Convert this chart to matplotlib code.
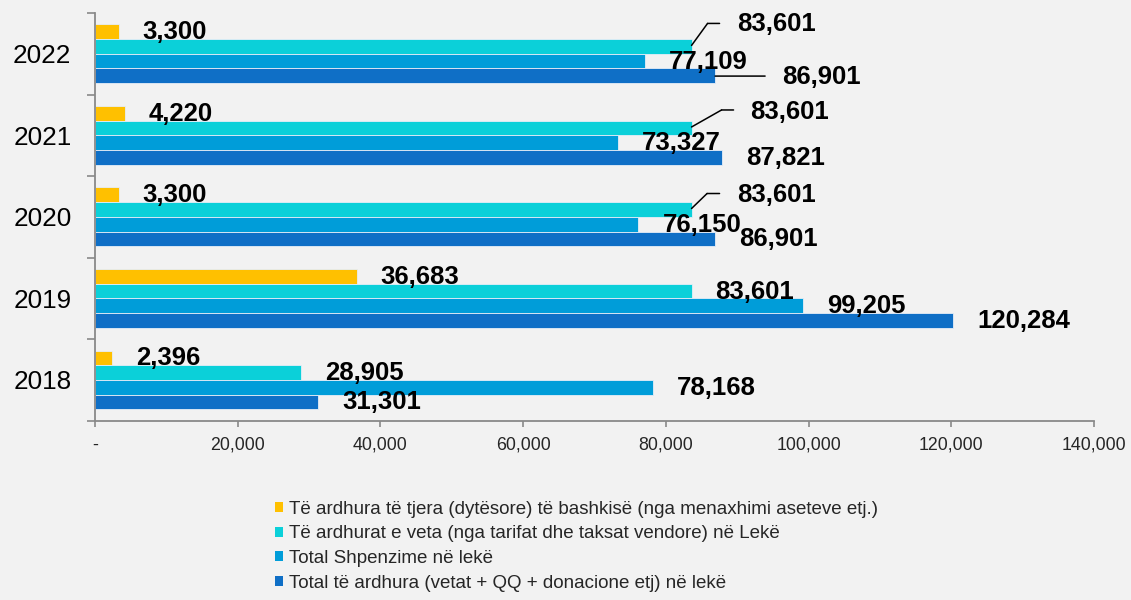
import matplotlib
matplotlib.use('Agg')
import matplotlib.pyplot as plt
import matplotlib.transforms as mtransforms
from matplotlib.patches import Patch
import numpy as np

plt.rcParams['font.family'] = ['Liberation Sans', 'DejaVu Sans']

# ---- data ----
years = ['2018', '2019', '2020', '2021', '2022']
other_income = [2396, 36683, 3300, 4220, 3300]
own_income = [28905, 83601, 83601, 83601, 83601]
total_expenses = [78168, 99205, 76150, 73327, 77109]
total_income = [31301, 120284, 86901, 87821, 86901]
series_names = [
    'Të ardhura të tjera (dytësore) të bashkisë (nga menaxhimi aseteve etj.)',
    'Të ardhurat e veta (nga tarifat dhe taksat vendore) në Lekë',
    'Total Shpenzime në lekë',
    'Total të ardhura (vetat + QQ + donacione etj) në lekë',
]
x_ticks = [0, 20000, 40000, 60000, 80000, 100000, 120000, 140000]
x_tick_labels = ['-', '20,000', '40,000', '60,000', '80,000', '100,000', '120,000', '140,000']

# ---- style ----
colors = ['#FFC000', '#0BD0D9', '#009DD9', '#0F6FC6']
bg = '#F2F2F2'
axis_gray = '#898989'
text_col = '#262626'

W, H = 1131, 600
fig = plt.figure(figsize=(W / 100, H / 100), dpi=100, facecolor=bg)
ax = fig.add_axes([95 / W, 1 - 420.7 / H, (1094 - 95) / W, (420.7 - 13) / H])
ax.set_facecolor(bg)

series = [other_income, own_income, total_expenses, total_income]
ypos = np.arange(len(years))
bar_h = 0.18
offsets = [0.27, 0.09, -0.09, -0.27]

for s, off, c, name in zip(series, offsets, colors, series_names):
    ax.barh(ypos + off, s, height=bar_h, color=c, edgecolor='#E6EEF7',
            linewidth=0.6, label=name)

ax.set_xlim(0, 140000)
ax.set_ylim(-0.5, len(years) - 0.5)

for sp in ['top', 'right']:
    ax.spines[sp].set_visible(False)
for sp in ['left', 'bottom']:
    ax.spines[sp].set_color(axis_gray)
    ax.spines[sp].set_linewidth(1.3)

ax.set_xticks(x_ticks, x_tick_labels)
ax.tick_params(axis='x', length=4.5, width=1.2, color=axis_gray, pad=7,
               labelsize=12.8, labelcolor=text_col)
ax.set_yticks(ypos, years)
ax.tick_params(axis='y', which='major', length=0, pad=17, labelsize=18.8,
               labelcolor='black')
ax.set_yticks(np.arange(-0.5, len(years), 1.0), minor=True)
ax.tick_params(axis='y', which='minor', length=6, width=1.2, color=axis_gray)

# ---- data labels (pixel offsets of text left edge from bar end; y down) ----
default_shift = (24, 0.5)
label_shift = {
    (4, 1): (45.4, -22),
    (4, 3): (67, 1),
    (3, 1): (58.4, -16),
    (2, 1): (45.4, -14.5),
}
for si, s in enumerate(series):
    for yi, v in enumerate(s):
        dx, dy = label_shift.get((yi, si), default_shift)
        ax.annotate(f'{v:,}', xy=(v, ypos[yi] + offsets[si]), xytext=(dx, -dy),
                    textcoords='offset pixels', ha='left', va='center',
                    fontsize=18.5, fontweight='bold', color='black')

# leader lines (pixel offsets from bar end; y down)
leaders = [
    (4, 1, [(0, -1), (16, -23), (28, -23)]),
    (3, 1, [(0, -1), (30, -18), (42, -18)]),
    (2, 1, [(0, -1), (15.5, -16), (28, -16)]),
    (4, 3, [(0, 0.3), (50, 0.3)]),
]


def pix(dx, dy):
    return ax.transData + mtransforms.ScaledTranslation(dx / fig.dpi, -dy / fig.dpi,
                                                        fig.dpi_scale_trans)


for yi, si, pts in leaders:
    v = series[si][yi]
    yy = ypos[yi] + offsets[si]
    for a, b in zip(pts[:-1], pts[1:]):
        ax.annotate('', xy=(v, yy), xycoords=pix(*a), xytext=(v, yy),
                    textcoords=pix(*b),
                    arrowprops=dict(arrowstyle='-', color='black', lw=1.1,
                                    shrinkA=0, shrinkB=0))

# ---- legend ----
handles = [Patch(facecolor=c, edgecolor='none') for c in colors]
fig.legend(handles, series_names, loc='upper left',
           bbox_to_anchor=(275 / W, 1 - 501 / H), frameon=False, fontsize=13.5,
           handlelength=0.45, handleheight=0.45, handletextpad=0.3,
           labelspacing=0.4, borderpad=0, borderaxespad=0, labelcolor=text_col)

fig.savefig('out.png', dpi=100, facecolor=bg)
